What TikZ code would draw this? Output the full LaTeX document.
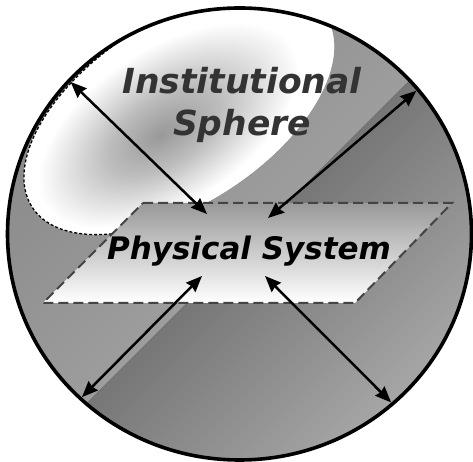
\documentclass[tikz,border=0pt]{standalone}
\usepackage{fontspec}
\usepackage{tikz}
\usetikzlibrary{positioning,arrows.meta,shapes.geometric}
\newfontfamily\vfont{DejaVu Sans}
\definecolor{ink}{HTML}{000000}
\definecolor{ink2}{HTML}{333333}
\definecolor{rim}{HTML}{444444}
\definecolor{bandA}{HTML}{7F7F7F}
\definecolor{bandB}{HTML}{9D9D9D}
\definecolor{bandC}{HTML}{767676}
\definecolor{bandD}{HTML}{B0B0B0}
\definecolor{haze}{HTML}{999999}
\pgfdeclareradialshading{instshade}{\pgfpoint{-4bp}{-2.5bp}}{color(0bp)=(haze); color(9bp)=(haze!65!white); color(21bp)=(white); color(50bp)=(white)}
\tikzset{
  sysbox/.style={draw=rim, line width=2pt, dash pattern=on 10pt off 5pt, top color=haze, bottom color=white},
  systxt/.style={inner sep=0pt, font=\vfont\bfseries\itshape\fontsize{31}{37}\selectfont},
  lbl/.style={align=center, text=ink2, inner sep=0pt, font=\vfont\bfseries\itshape\fontsize{34.5}{42}\selectfont},
  arr/.style={{Stealth[length=16pt,width=13pt,inset=1.5pt]}-{Stealth[length=16pt,width=13pt,inset=1.5pt]}, line width=2.5pt, ink},
  edge/.style={draw=ink, line width=1.3pt, dash pattern=on 3pt off 2pt},
}

\begin{document}
\begin{tikzpicture}[x=1pt, y=1pt]
  \useasboundingbox (0,0) rectangle (473,462);
  \node[ellipse, minimum width=460pt, minimum height=448pt, inner sep=0pt, outer sep=0pt] (globe) at (239.5,228) {};
  % background bands and the institutional sphere, kept inside the globe
  \begin{scope}
    \clip (globe.center) ellipse [x radius=232, y radius=226];
    \begin{scope}[transform canvas={shift={(0,462)}, rotate=-45}]
      \shade[left color=bandA, right color=bandB] (-20,-500) rectangle (346,500);
      \shade[left color=bandC, right color=bandD] (346,-500) rectangle (610,500);
      \fill[bandD] (610,-500) rectangle (700,500);
    \end{scope}
    \fill[white, shift={(179,350)}, rotate=33] (0,0) ellipse [x radius=175, y radius=92];
    \begin{scope}[transform canvas={shift={(179,350)}, rotate=33}]
      \shade[shading=instshade] (0,0) ellipse [x radius=175, y radius=92];
    \end{scope}
    \draw[edge, shift={(179,350)}, rotate=33] (95:175 and 92) arc [start angle=95, end angle=245, x radius=175, y radius=92];
  \end{scope}
  \node[lbl] (inst) at (242,357) {Institutional\\Sphere};
  % the physical system plane
  \coordinate (pTL) at (143,259);
  \coordinate (pTR) at (452,259);
  \coordinate (pBR) at (355,159);
  \coordinate (pBL) at (43,159);
  \shade[sysbox] (pTL) -- (pTR) -- (pBR) -- (pBL) -- cycle;
  \node[systxt] (phys) at (249,211) {Physical System};
  \coordinate (inNW) at ([shift={(-42,37)}]phys.center);
  \coordinate (inNE) at ([shift={(19,33)}]phys.center);
  \coordinate (inSW) at ([shift={(-47,-25)}]phys.center);
  \coordinate (inSE) at ([shift={(16,-25)}]phys.center);
  \draw[arr] (globe.138) -- (inNW);
  \draw[arr] (globe.39) -- (inNE);
  \draw[arr] (globe.226) -- (inSW);
  \draw[arr] (globe.312) -- (inSE);
  \draw[ink, line width=3.6pt] (globe.center) ellipse [x radius=232, y radius=226];
\end{tikzpicture}
\end{document}
